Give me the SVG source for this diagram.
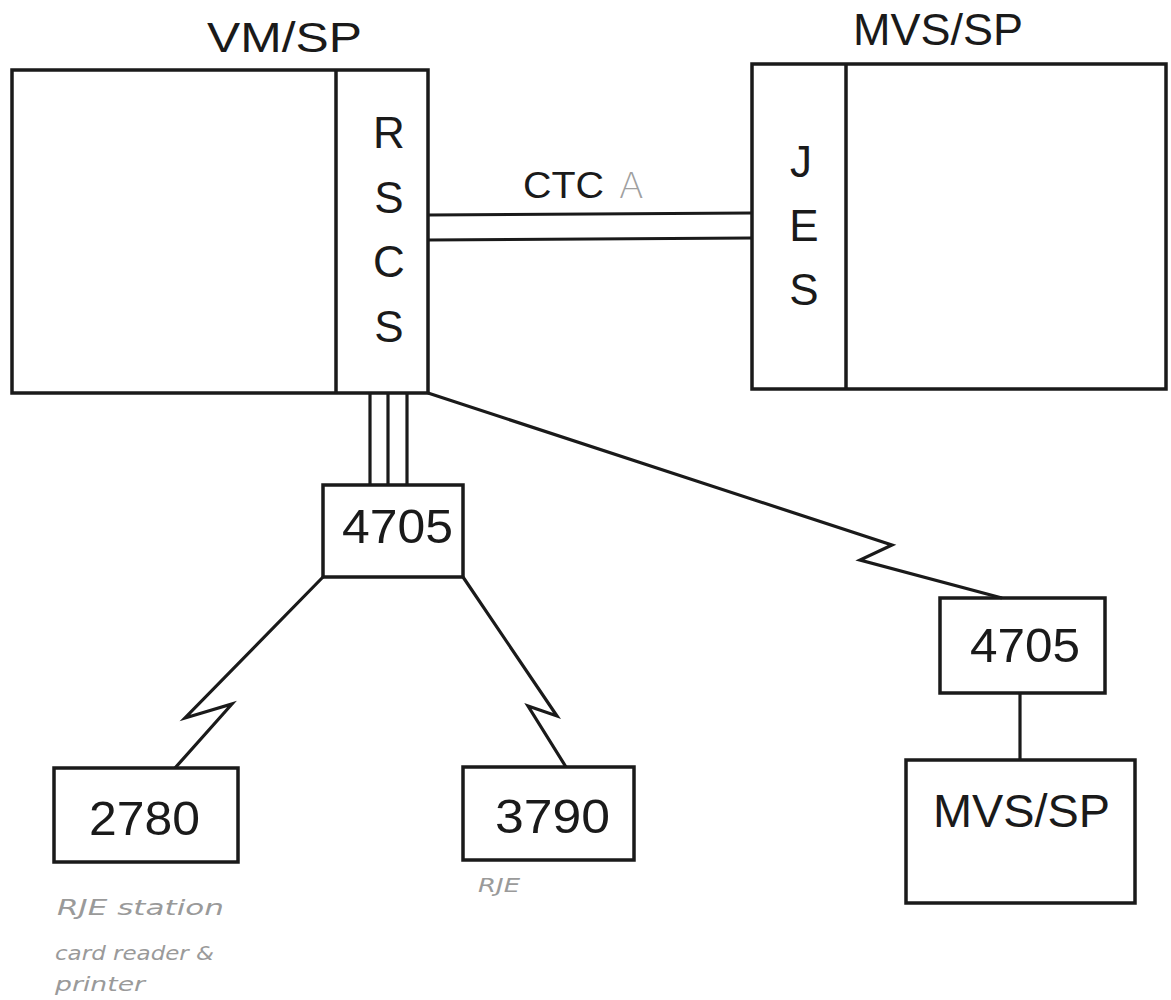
<svg xmlns="http://www.w3.org/2000/svg" width="1171" height="1000" viewBox="0 0 1171 1000">
<style>
.box{fill:none;stroke:#1a1a1a;stroke-width:3.5}
.ln{fill:none;stroke:#1a1a1a;stroke-width:3.2;stroke-linejoin:miter}
.t{font-family:"Liberation Sans",Arial,sans-serif;fill:#1a1a1a}
.hw{font-family:"DejaVu Sans","Liberation Sans",sans-serif;font-weight:200;font-style:italic;fill:#9a9a9a}
</style>
<rect width="1171" height="1000" fill="#ffffff"/>
<g id="vmsp">
<rect class="box" x="12" y="70" width="416" height="323"/>
<line class="box" x1="336" y1="70" x2="336" y2="393"/>
<text class="t" x="207" y="52" font-size="42" textLength="155" lengthAdjust="spacingAndGlyphs">VM/SP</text>
<g class="t" font-size="44" text-anchor="middle">
<text x="389" y="148">R</text>
<text x="389" y="213">S</text>
<text x="389" y="277">C</text>
<text x="389" y="342">S</text>
</g>
</g>
<g id="mvssp">
<rect class="box" x="752" y="64" width="414" height="325"/>
<line class="box" x1="846" y1="64" x2="846" y2="389"/>
<text class="t" x="853" y="45" font-size="44" textLength="170" lengthAdjust="spacingAndGlyphs">MVS/SP</text>
<g class="t" font-size="44" text-anchor="middle">
<text x="801" y="177">J</text>
<text x="804" y="241">E</text>
<text x="804" y="305">S</text>
</g>
</g>
<g id="c4705a">
<rect class="box" x="323" y="485" width="140" height="92"/>
<text class="t" x="342" y="543" font-size="48" textLength="111" lengthAdjust="spacingAndGlyphs">4705</text>
</g>
<g id="c2780">
<rect class="box" x="54" y="768" width="184" height="94"/>
<text class="t" x="89" y="835" font-size="48" textLength="111" lengthAdjust="spacingAndGlyphs">2780</text>
</g>
<g id="c3790">
<rect class="box" x="463" y="767" width="171" height="93"/>
<text class="t" x="495" y="833" font-size="48" textLength="115" lengthAdjust="spacingAndGlyphs">3790</text>
</g>
<g id="c4705b">
<rect class="box" x="940" y="598" width="165" height="95"/>
<text class="t" x="970" y="662" font-size="48" textLength="110" lengthAdjust="spacingAndGlyphs">4705</text>
</g>
<g id="mvssp2">
<rect class="box" x="906" y="760" width="229" height="143"/>
<text class="t" x="933" y="827" font-size="46" textLength="177" lengthAdjust="spacingAndGlyphs">MVS/SP</text>
</g>
<g id="connectors">
<line class="ln" x1="428" y1="215" x2="752" y2="213"/>
<line class="ln" x1="428" y1="240" x2="752" y2="238"/>
<text class="t" x="523" y="198" font-size="36" textLength="81" lengthAdjust="spacingAndGlyphs">CTC</text>
<text x="619" y="198" font-size="36" style="font-family:'DejaVu Sans','Liberation Sans',sans-serif;font-weight:200;fill:#a0a0a0">A</text>
<line class="ln" x1="370" y1="393" x2="370" y2="485"/>
<line class="ln" x1="388" y1="393" x2="388" y2="485"/>
<line class="ln" x1="407" y1="393" x2="407" y2="485"/>
<polyline class="ln" points="323,577 185,718 232,704 175,768"/>
<polyline class="ln" points="463,577 557,716 528,706 566,767"/>
<polyline class="ln" points="428,393 892,545 860,560 1002,598"/>
<line class="ln" x1="1020" y1="693" x2="1020" y2="760"/>
</g>
<g id="notes">
<text class="hw" x="57" y="915" font-size="22" textLength="167" lengthAdjust="spacingAndGlyphs">RJE station</text>
<text class="hw" x="55" y="960" font-size="20" textLength="159" lengthAdjust="spacingAndGlyphs">card reader &amp;</text>
<text class="hw" x="55" y="991" font-size="20" textLength="90" lengthAdjust="spacingAndGlyphs">printer</text>
<text class="hw" x="478" y="892" font-size="20" textLength="42" lengthAdjust="spacingAndGlyphs">RJE</text>
</g>
</svg>
